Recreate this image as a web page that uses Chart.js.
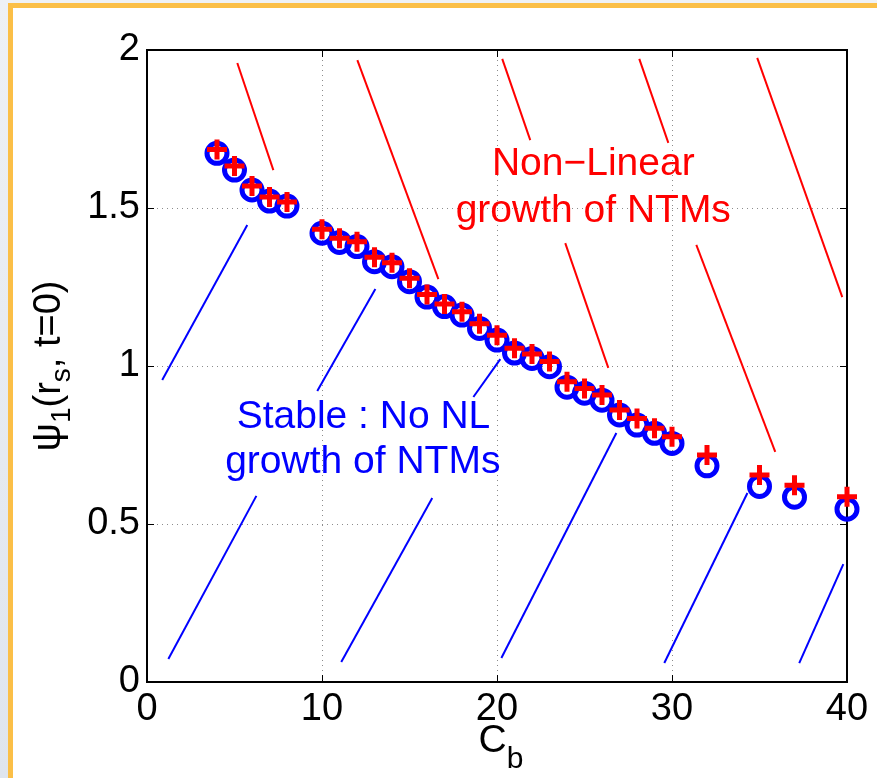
<!DOCTYPE html>
<html><head><meta charset="utf-8">
<script src="https://cdn.jsdelivr.net/npm/chart.js@4.4.1/dist/chart.umd.min.js"></script>
<style>
html,body{margin:0;padding:0;width:877px;height:778px;overflow:hidden;background:#fff;}
#topstrip{position:absolute;left:0;top:0;width:877px;height:4px;background:#eff1f4;}
#strip{position:absolute;left:0;top:0;width:8px;height:778px;background:linear-gradient(to bottom,#eef1f5,#dfe5ee);}
#frame{position:absolute;left:8px;top:3px;width:900px;height:800px;border-left:5px solid #fbbf47;border-top:5px solid #fbbf47;background:#fff;}
#wrap{position:absolute;left:0;top:0;width:877px;height:778px;}
</style></head><body>
<div id="topstrip"></div><div id="strip"></div><div id="frame"></div>
<div id="wrap"><canvas id="c" width="877" height="778"></canvas></div>
<script>
// ---- data ----
const cb = [4,5,6,7,8,10,11,12,13,14,15,16,17,18,19,20,21,22,23,24,25,26,27,28,29,30,32,35,37,40];
const psiCircle = [1.673,1.620,1.557,1.522,1.506,1.420,1.391,1.378,1.330,1.314,1.267,1.218,1.188,1.161,1.119,1.082,1.041,1.024,0.998,0.933,0.914,0.892,0.845,0.813,0.787,0.755,0.684,0.619,0.585,0.547];
const psiPlus   = [1.685,1.633,1.570,1.535,1.519,1.433,1.404,1.393,1.344,1.327,1.278,1.226,1.196,1.172,1.134,1.097,1.056,1.038,1.014,0.950,0.929,0.908,0.861,0.834,0.803,0.776,0.718,0.655,0.623,0.586];
// hatch segments [x1, y1, x2, y2] in data units
const nonLinearSegs = [
  [5.16,1.959,7.22,1.620],
  [12.02,1.968,16.65,1.275],
  [20.30,1.972,21.90,1.715],
  [23.90,1.389,26.36,0.994],
  [28.13,1.972,29.79,1.706],
  [31.39,1.383,35.90,0.728],
  [34.87,1.975,39.73,1.218]
];
const stableSegs = [
  [0.87,0.956,5.73,1.446],
  [9.73,0.921,13.05,1.244],
  [18.65,0.902,20.19,1.022],
  [1.22,0.073,6.25,0.589],
  [11.10,0.063,16.30,0.582],
  [20.25,0.076,26.82,0.788],
  [29.56,0.060,34.31,0.598],
  [37.27,0.060,39.79,0.373]
];
const xTicks = [0,10,20,30,40];
const xTickLabels = ['0','10','20','30','40'];
const yTicks = [0,0.5,1,1.5,2];
const yTickLabels = ['0','0.5','1','1.5','2'];

const FONT = "'Liberation Sans', Arial, Helvetica, sans-serif";
const RED = '#ff0000', BLUE = '#0000ff';

const datasets = [];
datasets.push({
  label:'plus', data: cb.map((c,i)=>({x:c,y:psiPlus[i]})),
  pointStyle:'cross', pointRadius:10, pointBorderWidth:5, borderWidth:5, borderColor:RED, backgroundColor:RED,
  pointBorderColor:RED, showLine:false, clip:false, pointHoverRadius:10, pointHoverBorderWidth:5
});
datasets.push({
  label:'circle', data: cb.map((c,i)=>({x:c,y:psiCircle[i]})),
  pointStyle:'circle', pointRadius:10, pointBorderWidth:5, borderWidth:5, borderColor:BLUE, backgroundColor:'rgba(0,0,0,0)',
  pointBorderColor:BLUE, showLine:false, clip:false, pointHoverRadius:10
});
nonLinearSegs.forEach(s=>datasets.push({
  data:[{x:s[0],y:s[1]},{x:s[2],y:s[3]}], showLine:true, pointRadius:0, borderColor:RED, borderWidth:2, clip:false
}));
stableSegs.forEach(s=>datasets.push({
  data:[{x:s[0],y:s[1]},{x:s[2],y:s[3]}], showLine:true, pointRadius:0, borderColor:BLUE, borderWidth:2, clip:false
}));

const notes = [
  {text:'Non\u2212Linear', x:25.5, y:1.604, color:RED},
  {text:'growth of NTMs', x:25.5, y:1.457, color:RED},
  {text:'Stable : No NL', x:12.37, y:0.803, color:BLUE},
  {text:'growth of NTMs', x:12.33, y:0.660, color:BLUE}
];

function drawRich(ctx, parts, cx, cy, rot){
  ctx.save();
  ctx.translate(cx, cy); ctx.rotate(rot);
  let total = 0;
  parts.forEach(p=>{ ctx.font = p.size+'px '+FONT; p.w = ctx.measureText(p.t).width; total += p.w; });
  let xx = -total/2;
  ctx.textBaseline='alphabetic'; ctx.textAlign='left'; ctx.fillStyle='#000';
  parts.forEach(p=>{ ctx.font = p.size+'px '+FONT; ctx.fillText(p.t, xx, p.dy||0); xx += p.w; });
  ctx.restore();
}

const deco = {
  id:'deco',
  beforeDatasetsDraw(chart){
    const {ctx, chartArea:a, scales:{x,y}} = chart;
    ctx.save();
    ctx.strokeStyle='#000'; ctx.lineWidth=1;
    const ln=(x1,y1,x2,y2)=>{ctx.beginPath();ctx.moveTo(x1,y1);ctx.lineTo(x2,y2);ctx.stroke();};
    xTicks.forEach(v=>{const p=Math.round(x.getPixelForValue(v))+0.5; ln(p,a.bottom,p,a.bottom-7); ln(p,a.top,p,a.top+7);});
    yTicks.forEach(v=>{const p=Math.round(y.getPixelForValue(v))+0.5; ln(a.left,p,a.left+7,p); ln(a.right,p,a.right-7,p);});
    ctx.lineWidth=2;
    ctx.strokeRect(a.left,a.top,a.right-a.left,a.bottom-a.top);
    ctx.restore();
  },
  afterDraw(chart){
    const {ctx, chartArea:a, scales:{x,y}} = chart;
    ctx.save();
    ctx.font = '39px '+FONT; ctx.textAlign='center'; ctx.textBaseline='alphabetic';
    notes.forEach(n=>{ ctx.fillStyle=n.color; ctx.fillText(n.text, x.getPixelForValue(n.x), y.getPixelForValue(n.y)); });
    ctx.restore();
    // axis titles
    drawRich(ctx, [{t:'C',size:39},{t:'b',size:30,dy:16}], (a.left+a.right)/2+4, 752, 0);
    drawRich(ctx, [{t:'\u03c8',size:40},{t:'1',size:28,dy:10},{t:'(r',size:38},{t:'s',size:28,dy:10},{t:', t=0)',size:38}], 60, (a.top+a.bottom)/2, -Math.PI/2);
  }
};

new Chart(document.getElementById('c'), {
  type:'scatter',
  data:{datasets},
  options:{
    responsive:false, animation:false, devicePixelRatio:1,
    layout:{padding:{top:50,right:30,left:0,bottom:0}},
    plugins:{legend:{display:false}, tooltip:{enabled:false}},
    events:[],
    scales:{
      x:{type:'linear', min:0, max:40,
        afterBuildTicks:s=>{s.ticks = xTicks.map(v=>({value:v}));},
        afterFit:s=>{s.height = 96;},
        ticks:{callback:(v,i)=>xTickLabels[i], color:'#000', font:{family:FONT,size:38}, padding:5, maxRotation:0, autoSkip:false},
        grid:{color:'#8c8c8c', lineWidth:1, drawTicks:false},
        border:{display:false, dash:[1,4]}
      },
      y:{type:'linear', min:0, max:2,
        afterBuildTicks:s=>{s.ticks = yTicks.map(v=>({value:v}));},
        afterFit:s=>{s.width = 147;},
        ticks:{callback:(v,i)=>yTickLabels[i], color:'#000', font:{family:FONT,size:38}, padding:7, autoSkip:false},
        grid:{color:'#8c8c8c', lineWidth:1, drawTicks:false},
        border:{display:false, dash:[1,4]}
      }
    }
  },
  plugins:[deco]
});
</script>
</body></html>
